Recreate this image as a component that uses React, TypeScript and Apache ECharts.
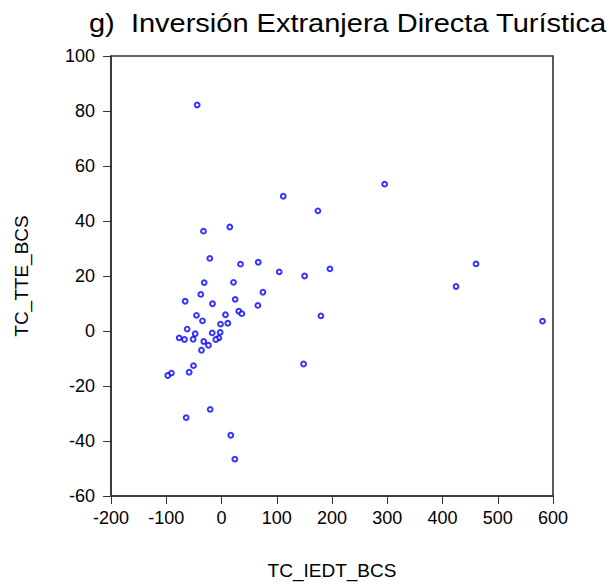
import React, { useEffect, useRef } from "react";
import * as echarts from "echarts";

const xValues = [
  -44, 111.8, 174.5, -32.6, 15, -21.2, 34.4, 66.5, 104.5, 150.4, 196.2,
  -31.3, 21.7, -37.5, 75, -65.8, -16.3, 24.8, 65.8, 31.3, 36.8, -45.3, 7.2,
  -34.4, 11.4, -1.8, -62.1, -47.6, -16.8, -2.4, -76.6, -67, -51.3, -4.9,
  -10.3, -32.1, -23.6, -36.2, 179.9, -50.7, -58.5, -90.6, -97.3, 148.6, -64,
  -20.5, 16.8, 24.1, 295.3, 460.7, 424.5, 581,
];
const yValues = [
  82.2, 49.0, 43.7, 36.3, 37.8, 26.4, 24.3, 25.0, 21.5, 20.0, 22.6, 17.6,
  17.7, 13.3, 14.1, 10.8, 9.9, 11.5, 9.3, 7.2, 6.3, 5.7, 5.9, 3.7, 2.8, 2.5,
  0.7, -1.0, -0.7, -0.5, -2.5, -3.1, -3.0, -2.5, -3.1, -3.8, -5.2, -7.0, 5.5,
  -12.6, -15.0, -15.3, -16.2, -12.0, -31.5, -28.5, -37.9, -46.6, 53.4, 24.4,
  16.2, 3.6,
];
const titleText = "g)  Inversión Extranjera Directa Turística";
const xName = "TC_IEDT_BCS";
const yName = "TC_TTE_BCS";

export default function App() {
  const ref = useRef<HTMLDivElement>(null);
  useEffect(() => {
    if (!ref.current) return;
    const chart = echarts.init(ref.current, undefined, { renderer: "svg" });
    const font = "'Liberation Sans', Arial, sans-serif";
    chart.setOption({
      animation: false,
      textStyle: { fontFamily: font },
      graphic: [
        {
          type: "text",
          x: 81,
          y: 15,
          scaleX: 1.16,
          style: {
            text: titleText,
            font: "25px 'Liberation Sans', Arial, sans-serif",
            fill: "#000",
            verticalAlign: "middle",
            align: "left",
          },
        },
      ],
      grid: {
        left: 103,
        right: 63,
        top: 48,
        bottom: 88,
        show: true,
        borderColor: "#333",
        borderWidth: 1.6,
        containLabel: false,
        outerBoundsMode: "none",
      },
      xAxis: {
        type: "value",
        min: -200,
        max: 600,
        interval: 100,
        name: xName,
        nameLocation: "middle",
        nameGap: 65,
        nameTextStyle: { fontFamily: font, fontSize: 19, color: "#000" },
        axisLine: { show: true, onZero: false, lineStyle: { color: "#333", width: 1.6 } },
        axisTick: { show: true, length: 8, lineStyle: { color: "#333" } },
        axisLabel: { fontFamily: font, fontSize: 18, color: "#000", margin: 13 },
        splitLine: { show: false },
      },
      yAxis: {
        type: "value",
        min: -60,
        max: 100,
        interval: 20,
        name: yName,
        nameLocation: "middle",
        nameGap: 80,
        nameTextStyle: { fontFamily: font, fontSize: 19, color: "#000" },
        axisLine: { show: true, onZero: false, lineStyle: { color: "#333", width: 1.6 } },
        axisTick: { show: true, length: 8, lineStyle: { color: "#333" } },
        axisLabel: { fontFamily: font, fontSize: 18, color: "#000", margin: 16 },
        splitLine: { show: false },
      },
      series: [
        {
          type: "scatter",
          data: xValues.map((x, i) => [x, yValues[i]]),
          symbol: "emptyCircle",
          symbolSize: 4.8,
          itemStyle: { color: "#0000ff", borderColor: "#0000ff", borderWidth: 1.2 },
        },
      ],
    });
    return () => chart.dispose();
  }, []);
  return <div ref={ref} style={{ width: 608, height: 576 }} />;
}
